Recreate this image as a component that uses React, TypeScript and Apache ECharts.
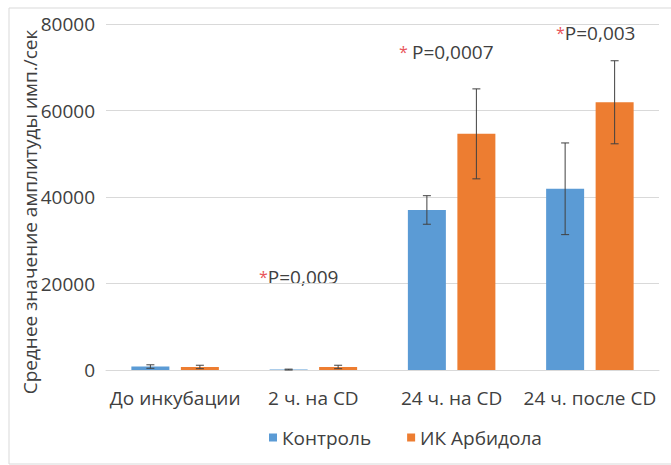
import React, { useEffect, useRef } from "react";
import * as echarts from "echarts";

const categories = ["До инкубации", "2 ч. на CD", "24 ч. на CD", "24 ч. после CD"];
const controlValues = [800, 100, 37000, 41900];
const controlErrors = [400, 100, 3300, 10600];
const arbidolValues = [700, 700, 54600, 61900];
const arbidolErrors = [400, 400, 10400, 9600];
const yTicks = [0, 20000, 40000, 60000, 80000];
const yAxisTitle = "Среднее значение амплитуды имп./сек";
const annotations = [
  { cat: 1, text: "P=0,009", star: "*" },
  { cat: 2, text: "P=0,0007", star: "* " },
  { cat: 3, text: "P=0,003", star: "*" },
];

const BLUE = "#5B9BD5";
const ORANGE = "#ED7D31";
const FONT = "'Open Sans', 'Noto Sans', sans-serif";
const BAR_W = 38;
const GAP = 11.5;
const FS = 19;

export default function App() {
  const ref = useRef<HTMLDivElement>(null);
  useEffect(() => {
    if (!ref.current) return;
    const chart = echarts.init(ref.current, null, { renderer: "svg" });
    const off = (BAR_W + GAP) / 2;
    const errSeries = (vals: number[], errs: number[], dir: number, name: string) => ({
      type: "custom",
      name: name + "-err",
      silent: true,
      z: 10,
      data: vals.map((v, i) => [i, v - errs[i], v + errs[i]]),
      renderItem: (params: any, api: any) => {
        const i = api.value(0);
        const lo = api.coord([i, api.value(1)]);
        const hi = api.coord([i, api.value(2)]);
        const x = lo[0] + dir * off;
        const style = { stroke: "#404040", lineWidth: 1 };
        return {
          type: "group",
          children: [
            { type: "line", shape: { x1: x, y1: lo[1], x2: x, y2: hi[1] }, style },
            { type: "line", shape: { x1: x - 4, y1: lo[1], x2: x + 4, y2: lo[1] }, style },
            { type: "line", shape: { x1: x - 4, y1: hi[1], x2: x + 4, y2: hi[1] }, style },
          ],
        };
      },
    });
    const annPos = [
      { x: 259, y: 277 },
      { x: 399, y: 52 },
      { x: 556, y: 33 },
    ];
    chart.setOption({
      animation: false,
      backgroundColor: "#ffffff",
      grid: { left: 106, right: 12, top: 24, bottom: 95, containLabel: false },
      legend: {
        bottom: 13,
        left: 264,
        itemWidth: 8,
        itemHeight: 8,
        itemGap: 36,
        icon: "rect",
        textStyle: { color: "#404040", fontSize: FS, fontFamily: FONT },
        data: ["Контроль", "ИК Арбидола"],
      },
      xAxis: {
        type: "category",
        data: categories,
        axisLine: { lineStyle: { color: "#d9d9d9" } },
        axisTick: { show: false },
        axisLabel: { color: "#404040", fontSize: FS, fontFamily: FONT, margin: 18, interval: 0 },
      },
      yAxis: {
        type: "value",
        min: 0,
        max: 80000,
        interval: 20000,
        axisLine: { show: false },
        axisTick: { show: false },
        splitLine: { lineStyle: { color: "#d9d9d9" } },
        axisLabel: {
          color: "#404040",
          fontSize: FS,
          fontFamily: FONT,
          margin: 11,
          formatter: (v: number) => (yTicks.includes(v) ? String(v) : ""),
        },
      },
      series: [
        {
          name: "Контроль",
          type: "bar",
          data: controlValues,
          barWidth: BAR_W,
          barGap: (GAP / BAR_W) * 100 + "%",
          itemStyle: { color: BLUE },
        },
        {
          name: "ИК Арбидола",
          type: "bar",
          data: arbidolValues,
          barWidth: BAR_W,
          itemStyle: { color: ORANGE },
        },
        errSeries(controlValues, controlErrors, -1, "Контроль"),
        errSeries(arbidolValues, arbidolErrors, 1, "ИК Арбидола"),
      ],
      graphic: [
        {
          type: "rect",
          shape: { x: 9, y: 8, width: 680, height: 456 },
          style: { fill: "none", stroke: "#d9d9d9", lineWidth: 1 },
          silent: true,
        },
        {
          type: "text",
          x: 30,
          y: 212,
          rotation: Math.PI / 2,
          style: {
            text: yAxisTitle,
            fill: "#404040",
            fontSize: FS,
            fontFamily: FONT,
            align: "center",
            verticalAlign: "middle",
          },
        },
        ...annotations.map((a, k) => ({
          type: "text",
          x: annPos[k].x,
          y: annPos[k].y,
          style: {
            text: "{s|" + a.star + "}{t|" + a.text + "}",
            verticalAlign: "middle",
            rich: {
              s: { fill: "#e8555a", fontSize: 16, fontFamily: FONT },
              t: { fill: "#404040", fontSize: FS, fontFamily: FONT },
            },
          },
        })),
      ],
    });
    return () => chart.dispose();
  }, []);
  return <div ref={ref} style={{ width: 671, height: 465, position: "absolute", left: 0, top: 0 }} />;
}
